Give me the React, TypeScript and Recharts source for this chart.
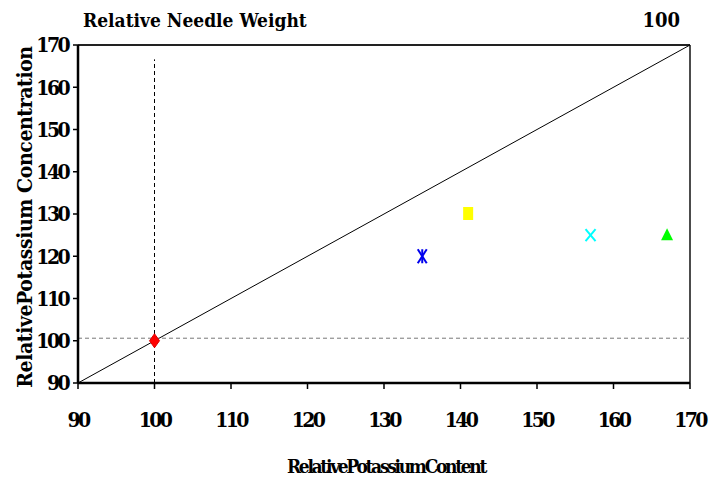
import React from 'react';
import { ScatterChart, Scatter, XAxis, YAxis, ReferenceLine } from 'recharts';

const xTicks = [90, 100, 110, 120, 130, 140, 150, 160, 170];
const yTicks = [90, 100, 110, 120, 130, 140, 150, 160, 170];

const redPoint = [{ x: 100, y: 100 }];
const bluePoint = [{ x: 135, y: 120 }];
const yellowPoint = [{ x: 141, y: 130 }];
const cyanPoint = [{ x: 157, y: 125 }];
const greenPoint = [{ x: 167, y: 125 }];

const diagonal = [{ x: 90, y: 90 }, { x: 170, y: 170 }];
const vDashed = [{ x: 100, y: 90 }, { x: 100, y: 166.6 }];
const hDashed = [{ x: 90, y: 100.6 }, { x: 170, y: 100.6 }];

const FONT = '"DejaVu Serif Condensed", "DejaVu Serif", serif';

const tickStyle = { fontFamily: FONT, fontWeight: 700, fontSize: 21, fill: '#000', letterSpacing: -2.6 };

const Diamond = (p: any) => (
  <polygon points={`${p.cx},${p.cy - 7} ${p.cx + 5},${p.cy} ${p.cx},${p.cy + 7} ${p.cx - 5},${p.cy}`} fill="#ff0000" stroke="#dd0000" strokeWidth={1} />
);
const Asterisk = (p: any) => (
  <g stroke="#0000ee" strokeWidth={2}>
    <line x1={p.cx - 4.5} y1={p.cy - 7} x2={p.cx + 4.5} y2={p.cy + 7} />
    <line x1={p.cx + 4.5} y1={p.cy - 7} x2={p.cx - 4.5} y2={p.cy + 7} />
    <line x1={p.cx} y1={p.cy - 7} x2={p.cx} y2={p.cy + 7} />
  </g>
);
const Square = (p: any) => <rect x={p.cx - 5} y={p.cy - 7} width={10} height={13} fill="#ffff00" />;
const Cross = (p: any) => (
  <g stroke="#00ffff" strokeWidth={2}>
    <line x1={p.cx - 5} y1={p.cy - 6} x2={p.cx + 5} y2={p.cy + 6} />
    <line x1={p.cx + 5} y1={p.cy - 6} x2={p.cx - 5} y2={p.cy + 6} />
  </g>
);
const Triangle = (p: any) => (
  <polygon points={`${p.cx},${p.cy - 7} ${p.cx + 6},${p.cy + 5} ${p.cx - 6},${p.cy + 5}`} fill="#00ff00" />
);

export default function App() {
  return (
    <div style={{ position: 'absolute', left: 0, top: 0, width: 709, height: 482, background: '#fff' }}>
      <ScatterChart width={709} height={482} margin={{ top: 45, right: 19, left: 0, bottom: 0 }}>
        <XAxis
          type="number"
          dataKey="x"
          domain={[90, 170]}
          ticks={xTicks}
          allowDataOverflow
          height={99}
          tickSize={6}
          tickMargin={23}
          axisLine={{ stroke: '#000', strokeWidth: 2.5 }}
          tickLine={{ stroke: '#000', strokeWidth: 1.5 }}
          tick={tickStyle}
        />
        <YAxis
          type="number"
          dataKey="y"
          domain={[90, 170]}
          ticks={yTicks}
          allowDataOverflow
          width={78}
          tickSize={5}
          tickMargin={5}
          axisLine={{ stroke: '#000', strokeWidth: 2.5 }}
          tickLine={{ stroke: '#000', strokeWidth: 1.5 }}
          tick={tickStyle}
        />
        <ReferenceLine y={170} stroke="#222" strokeWidth={2} ifOverflow="visible" />
        <ReferenceLine x={170} stroke="#111" strokeWidth={1.5} ifOverflow="visible" />
        <ReferenceLine segment={diagonal} stroke="#000" strokeWidth={1} ifOverflow="visible" />
        <ReferenceLine segment={vDashed} stroke="#000" strokeWidth={1} strokeDasharray="4 3" ifOverflow="visible" />
        <ReferenceLine segment={hDashed} stroke="#777" strokeWidth={1} strokeDasharray="4 3" ifOverflow="visible" />
        <Scatter data={redPoint} shape={Diamond} isAnimationActive={false} />
        <Scatter data={bluePoint} shape={Asterisk} isAnimationActive={false} />
        <Scatter data={yellowPoint} shape={Square} isAnimationActive={false} />
        <Scatter data={cyanPoint} shape={Cross} isAnimationActive={false} />
        <Scatter data={greenPoint} shape={Triangle} isAnimationActive={false} />
      </ScatterChart>
      <div style={{ position: 'absolute', left: 83, top: 8, fontFamily: FONT, fontWeight: 700, fontSize: 19, whiteSpace: 'nowrap', lineHeight: '24px' }}>
        Relative Needle Weight
      </div>
      <div style={{ position: 'absolute', right: 29, top: 8, fontFamily: FONT, fontWeight: 700, fontSize: 20, whiteSpace: 'nowrap', lineHeight: '24px' }}>
        100
      </div>
      <div style={{ position: 'absolute', left: 386, top: 466, transform: 'translate(-50%, -50%)', fontFamily: FONT, fontWeight: 700, fontSize: 19, letterSpacing: -2.3, whiteSpace: 'nowrap', lineHeight: '24px' }}>
        RelativePotassiumContent
      </div>
      <div style={{ position: 'absolute', left: 25, top: 217, transform: 'translate(-50%, -50%) rotate(-90deg)', fontFamily: FONT, fontWeight: 700, fontSize: 21, letterSpacing: -0.4, whiteSpace: 'nowrap', lineHeight: '24px' }}>
        RelativePotassium Concentration
      </div>
    </div>
  );
}
